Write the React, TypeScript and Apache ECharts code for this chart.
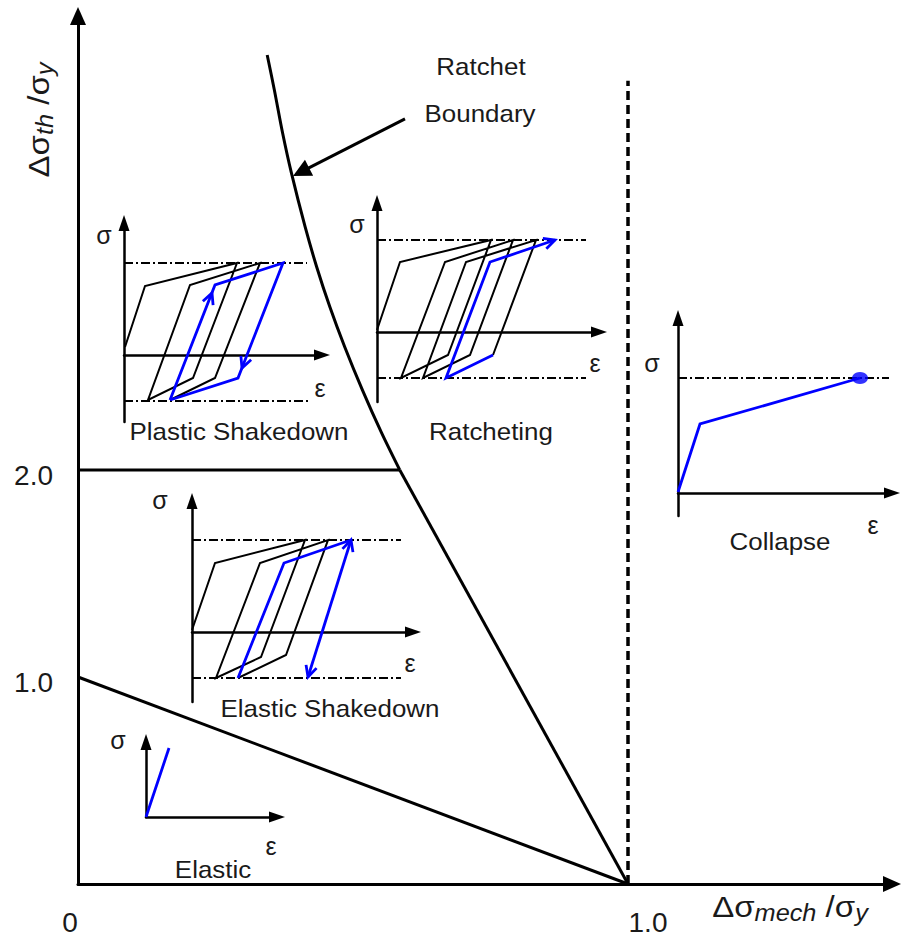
import React, { useEffect, useRef } from 'react';
import * as echarts from 'echarts';

// ---------- Main Bree diagram data (x: Δσmech/σy , y: Δσth/σy) ----------
const xTickValues = [0, 1];
const xTickLabels = ['0', '1.0'];
const yTickValues = [1, 2];
const yTickLabels = ['1.0', '2.0'];
const elasticBoundary = [[0, 1], [1, 0]];
const shakedownBoundary = [[0, 2], [0.585, 2]];
const ratchetStraight = [[1, 0], [0.585, 2]];
const ratchetCurve = [
  [0.585, 2], [0.552, 2.179], [0.517, 2.387], [0.485, 2.594], [0.458, 2.787],
  [0.434, 2.981], [0.413, 3.174], [0.388, 3.435], [0.372, 3.628], [0.357, 3.836], [0.344, 4.005],
];
const collapseLimit = [[1, 0], [1, 3.88]];
const boundaryPointer = [[0.5945, 3.696], [0.4055, 3.44]];

// ---------- Inset stress–strain sketches (local ε, σ units) ----------
const psUpper = [[0, 92], [183, 92]];
const psLower = [[0, -46], [186, -46]];
const psBlack = [[1, 8], [21, 69], [113, 92], [69, -23], [24, -45], [66, 70], [136, 92], [91, -23], [46, -45]];
const psBlue = [[46, -45], [91, 70], [159, 92], [114, -23], [46, -45]];

const rUpper = [[0, 92], [209, 92]];
const rLower = [[0, -46], [209, -46]];
const rBlack = [[0, 2], [23, 70], [114, 92], [71, -23], [24, -46], [68, 70], [136, 92], [93, -23], [46, -46], [89, 70], [159, 92], [116, -23]];
const rBlue = [[116, -23], [69, -46], [113, 70], [178, 92]];

const esUpper = [[0, 92], [209, 92]];
const esLower = [[0, -46], [209, -46]];
const esBlack = [[0, 2], [23, 69], [113, 92], [69, -25], [24, -46], [68, 69], [136, 92], [94, -23], [46, -46]];
const esBlue = [[46, -46], [92, 69], [159, 92]];
const esRange = [[159, 92], [116, -45]];

const cUpper = [[0, 115], [211, 115]];
const cBlue = [[0, 1], [22, 69], [182, 115]];
const cEnd = [[182, 115]];

const eBlue = [[0, 0], [23, 69]];

// ---------- Texts ----------
const regimeLabels = ['Plastic Shakedown', 'Ratcheting', 'Elastic Shakedown', 'Collapse', 'Elastic'];
const pointerLabels = ['Ratchet', 'Boundary'];
const stressSymbol = 'σ';
const strainSymbol = 'ε';
const xTitle = '{b|Δσ}{s|mech}{b| /σ}{s|y}';
const yTitle = '{b|Δσ}{s|th}{b| /σ}{s|y}';

// ---------- Layout (pixels) ----------
const MAIN = { left: 78, top: 16, width: 814, height: 868, pxX: 550, pxY: 207 };
const INSETS = [
  { left: 124, top: 223, width: 198, yMin: -67, yMax: 132 }, // plastic shakedown
  { left: 377, top: 203, width: 222, yMin: -70, yMax: 129 }, // ratcheting
  { left: 192, top: 501, width: 221, yMin: -70, yMax: 131 }, // elastic shakedown
  { left: 678, top: 318, width: 214, yMin: -23, yMax: 175 }, // collapse
  { left: 146, top: 742, width: 131, yMin: 0, yMax: 75 },    // elastic
];
const regimePos = [[239, 431], [491, 431], [330, 708], [780, 541], [213, 869]];
const pointerPos = [[481, 66], [480, 113]];
const sigmaPos = [[104, 235], [357, 224], [160, 500], [652, 363], [118, 740]];
const epsPos = [[320, 388], [595, 363], [410, 663], [873, 525], [271, 846]];

const FONT = '"Liberation Sans", Arial, Helvetica, sans-serif';
const BLACK = '#000000';
const BLUE = '#0000ff';
const TEXT = '#1a1a1a';
const LOOP_W = 2;
const BLUE_W = 2.8;

function lineSeries(data: number[][], axis: number, color: string, width: number, dash?: any, z = 3, smooth: any = false) {
  return {
    type: 'line', xAxisIndex: axis, yAxisIndex: axis, data, symbol: 'none', showSymbol: false,
    silent: true, clip: false, z, smooth,
    lineStyle: { color, width, type: dash || 'solid', cap: 'butt', join: 'miter' },
  };
}

function chevron(tip: number[], from: number[], len = 11, half = 5.5) {
  const dx = tip[0] - from[0];
  const dy = tip[1] - from[1];
  const L = Math.hypot(dx, dy);
  const ux = dx / L, uy = dy / L;
  const nx = -uy, ny = ux;
  return [
    [tip[0] - ux * len + nx * half, tip[1] - uy * len + ny * half],
    tip,
    [tip[0] - ux * len - nx * half, tip[1] - uy * len - ny * half],
  ];
}

const DASHDOT = [9, 3, 2, 3];

function textEl(text: string, x: number, y: number, size: number, scaleX = 1) {
  return {
    type: 'text', x, y, scaleX, silent: true, z: 10,
    style: {
      text, fill: TEXT, fontSize: size, fontFamily: FONT,
      align: 'center', verticalAlign: 'middle', textAlign: 'center', textVerticalAlign: 'middle',
    },
  };
}

function titleEl(text: string, x: number, y: number, rotation: number) {
  return {
    type: 'text', x, y, rotation, scaleX: 1.1, silent: true, z: 10,
    style: {
      text, align: 'center', verticalAlign: 'middle', textAlign: 'center', textVerticalAlign: 'middle', fill: TEXT,
      rich: {
        b: { fontSize: 30, fontFamily: FONT, fill: TEXT, color: TEXT },
        s: { fontSize: 23, fontFamily: FONT, fontStyle: 'italic', fill: TEXT, color: TEXT, padding: [12, 0, 0, 0] },
      },
    },
  };
}

export default function App() {
  const ref = useRef<HTMLDivElement>(null);

  useEffect(() => {
    if (!ref.current) return;
    const chart = echarts.init(ref.current, null, { renderer: 'svg' });

    const grids: any[] = [
      { left: MAIN.left, top: MAIN.top, width: MAIN.width, height: MAIN.height },
      ...INSETS.map((g) => ({ left: g.left, top: g.top, width: g.width, height: g.yMax - g.yMin })),
    ];

    const insetAxisLine = {
      show: true, onZero: true, symbol: ['none', 'triangle'], symbolSize: [11, 16],
      lineStyle: { color: BLACK, width: 2.5 },
    };

    const xAxes: any[] = [
      {
        gridIndex: 0, type: 'value', min: 0, max: MAIN.width / MAIN.pxX, interval: 1,
        axisLine: { show: true, onZero: true, symbol: ['none', 'triangle'], symbolSize: [16, 18], lineStyle: { color: BLACK, width: 3 } },
        axisTick: { show: false }, splitLine: { show: false },
        axisLabel: {
          show: true, margin: 24, showMinLabel: true, showMaxLabel: true,
          formatter: (v: number) => {
            const i = xTickValues.indexOf(v);
            if (i < 0) return '';
            return i === 0 ? `{z|${xTickLabels[i]}}` : `{o|${xTickLabels[i]}}`;
          },
          rich: {
            z: { fontSize: 28, fontFamily: FONT, color: TEXT, padding: [0, 16, 0, 0] },
            o: { fontSize: 28, fontFamily: FONT, color: TEXT, padding: [0, 0, 0, 40] },
          },
        },
      },
      ...INSETS.map((g, i) => ({
        gridIndex: i + 1, type: 'value', min: 0, max: g.width,
        axisLine: insetAxisLine, axisTick: { show: false }, axisLabel: { show: false }, splitLine: { show: false },
      })),
    ];

    const yAxes: any[] = [
      {
        gridIndex: 0, type: 'value', min: 0, max: MAIN.height / MAIN.pxY, interval: 1,
        axisLine: { show: true, onZero: true, symbol: ['none', 'triangle'], symbolSize: [16, 18], lineStyle: { color: BLACK, width: 3 } },
        axisTick: { show: false }, splitLine: { show: false },
        axisLabel: {
          show: true, margin: 25,
          formatter: (v: number) => {
            const i = yTickValues.indexOf(v);
            return i < 0 ? '' : `{t|${yTickLabels[i]}}`;
          },
          rich: {
            t: { fontSize: 28, fontFamily: FONT, color: TEXT, padding: [10, 0, 0, 0] },
          },
        },
      },
      ...INSETS.map((g, i) => ({
        gridIndex: i + 1, type: 'value', min: g.yMin, max: g.yMax,
        axisLine: insetAxisLine, axisTick: { show: false }, axisLabel: { show: false }, splitLine: { show: false },
      })),
    ];

    const series: any[] = [
      // main diagram
      lineSeries(elasticBoundary, 0, BLACK, 3),
      lineSeries(shakedownBoundary, 0, BLACK, 3),
      lineSeries(ratchetStraight, 0, BLACK, 3),
      lineSeries(ratchetCurve, 0, BLACK, 3, undefined, 3, 0.3),
      lineSeries(collapseLimit, 0, BLACK, 3.5, [9, 5]),
      {
        type: 'lines', coordinateSystem: 'cartesian2d', xAxisIndex: 0, yAxisIndex: 0, silent: true, z: 3,
        symbol: ['none', 'triangle'], symbolSize: [14, 18],
        lineStyle: { color: BLACK, width: 3, opacity: 1 },
        data: [{ coords: boundaryPointer }],
      },
      // plastic shakedown (axis 1)
      lineSeries(psUpper, 1, BLACK, LOOP_W, DASHDOT),
      lineSeries(psLower, 1, BLACK, LOOP_W, DASHDOT),
      lineSeries(psBlack, 1, BLACK, LOOP_W),
      lineSeries(psBlue, 1, BLUE, BLUE_W, undefined, 4),
      lineSeries(chevron([88, 62], psBlue[0]), 1, BLUE, BLUE_W, undefined, 4),
      lineSeries(chevron([118, -13], psBlue[2]), 1, BLUE, BLUE_W, undefined, 4),
      // ratcheting (axis 2)
      lineSeries(rUpper, 2, BLACK, LOOP_W, DASHDOT),
      lineSeries(rLower, 2, BLACK, LOOP_W, DASHDOT),
      lineSeries(rBlack, 2, BLACK, LOOP_W),
      lineSeries(rBlue, 2, BLUE, BLUE_W, undefined, 4),
      lineSeries(chevron(rBlue[3], rBlue[2]), 2, BLUE, BLUE_W, undefined, 4),
      // elastic shakedown (axis 3)
      lineSeries(esUpper, 3, BLACK, LOOP_W, DASHDOT),
      lineSeries(esLower, 3, BLACK, LOOP_W, DASHDOT),
      lineSeries(esBlack, 3, BLACK, LOOP_W),
      lineSeries(esBlue, 3, BLUE, BLUE_W, undefined, 4),
      lineSeries(esRange, 3, BLUE, BLUE_W, undefined, 4),
      lineSeries(chevron(esRange[0], esRange[1]), 3, BLUE, BLUE_W, undefined, 4),
      lineSeries(chevron(esRange[1], esRange[0]), 3, BLUE, BLUE_W, undefined, 4),
      // collapse (axis 4)
      lineSeries(cUpper, 4, BLACK, LOOP_W, DASHDOT),
      lineSeries(cBlue, 4, BLUE, BLUE_W, undefined, 4),
      {
        type: 'scatter', xAxisIndex: 4, yAxisIndex: 4, data: cEnd, symbol: 'circle', symbolSize: [16, 12],
        itemStyle: { color: BLUE }, silent: true, z: 5, clip: false,
      },
      // elastic (axis 5)
      lineSeries(eBlue, 5, BLUE, BLUE_W, undefined, 4),
    ];

    const graphics: any[] = [
      ...regimeLabels.map((t, i) => textEl(t, regimePos[i][0], regimePos[i][1], 24, 1.08)),
      ...pointerLabels.map((t, i) => textEl(t, pointerPos[i][0], pointerPos[i][1], 24, 1.08)),
      ...sigmaPos.map((p) => textEl(stressSymbol, p[0], p[1], 25)),
      ...epsPos.map((p) => textEl(strainSymbol, p[0], p[1], 25)),
      titleEl(xTitle, 790, 907, 0),
      titleEl(yTitle, 39, 120, Math.PI / 2),
    ];

    chart.setOption({
      animation: false,
      backgroundColor: '#ffffff',
      grid: grids,
      xAxis: xAxes,
      yAxis: yAxes,
      series,
      graphic: graphics,
    });

    return () => chart.dispose();
  }, []);

  return <div ref={ref} style={{ position: 'fixed', left: 0, top: 0, width: 901, height: 937, background: '#fff' }} />;
}
